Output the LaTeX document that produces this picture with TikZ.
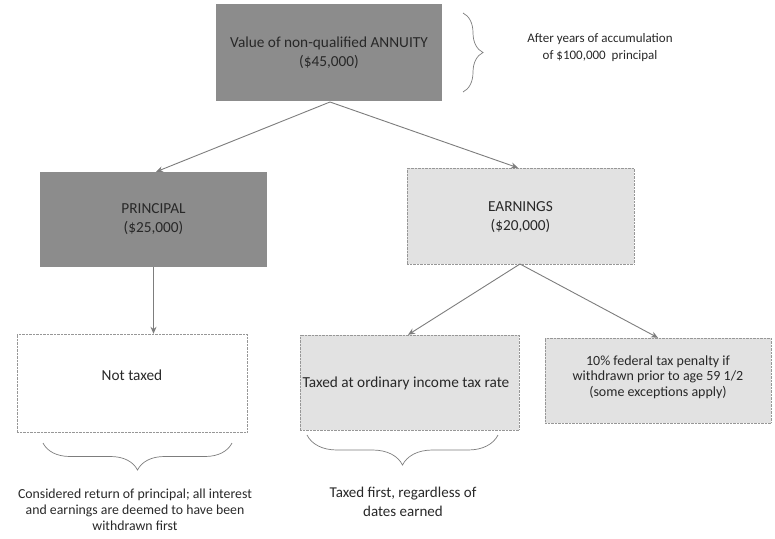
\documentclass[tikz,border=0pt]{standalone}
\usepackage{fontspec}
\setmainfont{Carlito}
\usetikzlibrary{arrows.meta,decorations.pathreplacing}
\definecolor{darkbox}{RGB}{140,140,140}
\definecolor{lightbox}{RGB}{226,226,226}
\definecolor{linegray}{RGB}{125,125,125}
\definecolor{txt}{RGB}{40,40,40}
\begin{document}
\begin{tikzpicture}[x=1pt,y=-1pt,
  every node/.style={text=txt,font=\fontsize{15.3}{19}\selectfont,align=center,inner sep=0pt},
  darkcell/.style={fill=darkbox,draw=none,minimum width=#1},
  lightcell/.style={fill=lightbox,draw=linegray!80,densely dotted,minimum width=#1},
  whitecell/.style={fill=white,draw=linegray!80,densely dotted,minimum width=#1},
  conn/.style={draw=linegray,line width=0.9pt,-{Stealth[length=7pt,width=6pt]}},
  bracelink/.style={draw=linegray,line width=0.7pt,decorate,decoration={brace,amplitude=#1}},
  note/.style={text=txt}
]
\useasboundingbox (0,0) rectangle (775,538);

\node[darkcell=226,minimum height=97] (top) at (329,52.5) {Value of non-qualified ANNUITY\\(\$45,000)};
\node[darkcell=227,minimum height=95] (prin) at (153.5,219.5) {PRINCIPAL\\(\$25,000)};
\node[lightcell=227,minimum height=96] (earn) at (520.5,216) {};
\node (earntxt) at (520.5,217) {EARNINGS\\(\$20,000)};
\node[whitecell=230,minimum height=98] (nottax) at (132,383) {};
\node (nottaxtxt) at (132,375) {Not taxed};
\node[lightcell=219,minimum height=95] (taxed) at (409.5,382.5) {};
\node (taxedtxt) at (406,383) {Taxed at ordinary income tax rate};
\node[lightcell=226,minimum height=85] (pen) at (658,380.5) {};
\node[font=\fontsize{14}{15.5}\selectfont] (pentxt) at (658,377) {10\% federal tax penalty if\\withdrawn prior to age 59 1/2\\(some exceptions apply)};

\node[note,font=\fontsize{13}{17}\selectfont] (accum) at (600,48) {After years of accumulation\\of \$100,000\ \ principal};
\node[note,font=\fontsize{13.8}{16}\selectfont] (consid) at (135,510) {Considered return of principal; all interest\\and earnings are deemed to have been\\withdrawn first};
\node[note,font=\fontsize{15}{19}\selectfont] (first) at (403,502) {Taxed first, regardless of\\dates earned};

\coordinate (topout) at (330,102);
\coordinate (earnout) at (520,264);
\draw[conn] (topout) -- (prin.north -| 156,0);
\draw[conn] (topout) -- (earn.north -| 518,0);
\draw[conn] (prin.south) -- (nottax.north -| prin.south);
\draw[conn] (earnout) -- (taxed.north -| 408,0);
\draw[conn] (earnout) -- (pen.north -| 658,0);

\coordinate (b1a) at (463,13);
\coordinate (b1b) at (463,92);
\draw[bracelink=20] (b1a) -- (b1b);
\coordinate (b2a) at (232,443);
\coordinate (b2b) at (43,443);
\draw[bracelink=27] (b2a) -- (b2b);
\coordinate (b3a) at (498,435);
\coordinate (b3b) at (307,435);
\draw[bracelink=30] (b3a) -- (b3b);
\end{tikzpicture}
\end{document}
